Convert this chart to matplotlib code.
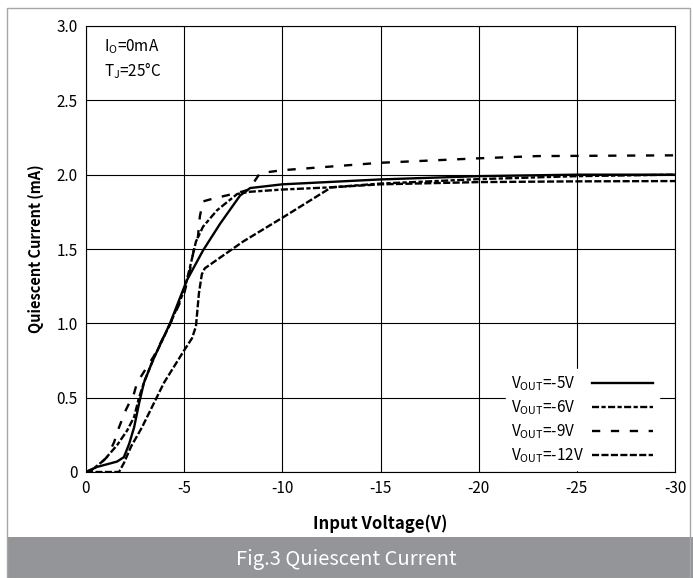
import numpy as np
import matplotlib
matplotlib.use("Agg")
import matplotlib.pyplot as plt
from matplotlib.patches import Rectangle

plt.rcParams["font.family"] = ["Noto Sans CJK SC", "DejaVu Sans"]
plt.rcParams["mathtext.fontset"] = "custom"
plt.rcParams["mathtext.rm"] = "Noto Sans CJK SC"

# input voltage magnitude (V) and quiescent current (mA)
v_5 = [0, 0.56, 1.58, 1.93, 2.2, 2.45, 2.7, 2.95, 3.4, 4.28, 4.93, 5.14, 5.96, 6.83, 7.85, 8.36, 10, 15, 20, 25, 30]
i_5 = [0, 0.034, 0.07, 0.10, 0.19, 0.30, 0.46, 0.60, 0.75, 1.00, 1.22, 1.29, 1.49, 1.67, 1.86, 1.91, 1.935, 1.968, 1.99, 2.0, 2.0]

v_6 = [0, 0.26, 0.92, 1.58, 2.1, 2.45, 2.7, 3.0, 3.5, 4.3, 5.0, 5.3, 5.6, 5.96, 6.67, 7.7, 8.35, 10, 12.5, 15, 20, 25, 30]
i_6 = [0, 0.01, 0.08, 0.18, 0.28, 0.37, 0.50, 0.62, 0.78, 1.00, 1.22, 1.38, 1.55, 1.65, 1.76, 1.87, 1.885, 1.90, 1.915, 1.94, 1.97, 1.99, 2.0]

v_9 = [0, 0.5, 1.07, 1.43, 1.68, 2.04, 2.45, 2.6, 3.46, 4.3, 5.0, 5.3, 5.5, 5.7, 5.8, 5.96, 6.5, 7.8, 8.3, 8.86, 10, 15, 20, 23, 30]
i_9 = [0, 0.03, 0.10, 0.20, 0.30, 0.42, 0.53, 0.60, 0.78, 1.00, 1.20, 1.36, 1.50, 1.58, 1.72, 1.82, 1.84, 1.88, 1.90, 2.01, 2.03, 2.08, 2.11, 2.125, 2.13]

v_12 = [0, 0.92, 1.68, 1.93, 2.29, 2.85, 3.97, 4.96, 5.4, 5.6, 5.75, 5.9, 6.05, 8, 10, 12.5, 15, 20, 25, 30]
i_12 = [0, 0, 0, 0.06, 0.17, 0.30, 0.60, 0.81, 0.90, 0.98, 1.20, 1.33, 1.37, 1.55, 1.71, 1.915, 1.935, 1.95, 1.955, 1.957]

x_ticks = [0, -5, -10, -15, -20, -25, -30]
x_labels = ["0", "-5", "-10", "-15", "-20", "-25", "-30"]
y_ticks = [0, 0.5, 1.0, 1.5, 2.0, 2.5, 3.0]
y_labels = ["0", "0.5", "1.0", "1.5", "2.0", "2.5", "3.0"]

fig = plt.figure(figsize=(6.93, 5.78), dpi=100)
ax = fig.add_axes([86 / 693, 1 - 472 / 578, 589 / 693, 446 / 578])

lw = 1.7
ax.plot(-np.array(v_5), i_5, color="black", lw=lw, label=r"V$_\mathregular{OUT}$=-5V")
ax.plot(-np.array(v_6), i_6, color="black", lw=lw, linestyle=(0, (3, 1, 1.8, 1)),
        label=r"V$_\mathregular{OUT}$=-6V")
ax.plot(-np.array(v_9), i_9, color="black", lw=lw, linestyle=(0, (3.5, 4.5)),
        label=r"V$_\mathregular{OUT}$=-9V")
ax.plot(-np.array(v_12), i_12, color="black", lw=lw, linestyle=(0, (3, 1)),
        label=r"V$_\mathregular{OUT}$=-12V")

ax.set_xlim(0, -30)
ax.set_ylim(0, 3.0)
ax.set_xticks(x_ticks)
ax.set_xticklabels(x_labels)
ax.set_yticks(y_ticks)
ax.set_yticklabels(y_labels)
ax.tick_params(length=0, labelsize=11, pad=6)
ax.grid(True, color="black", lw=0.8)
ax.set_axisbelow(True)
for s in ax.spines.values():
    s.set_color("black")
    s.set_linewidth(0.8)

ax.set_xlabel("Input Voltage(V)", fontsize=12, fontweight="bold", labelpad=12)
ax.set_ylabel("Quiescent Current (mA)", fontsize=10.5, fontweight="bold", labelpad=9)

ax.text(0.03, 0.975, "I$_\\mathregular{O}$=0mA\nT$_\\mathregular{J}$=25°C", transform=ax.transAxes,
        fontsize=11, va="top", ha="left", linespacing=1.3)

leg = ax.legend(loc="lower right", bbox_to_anchor=(0.972, 0.004), markerfirst=False,
                fontsize=11, handlelength=4.0, labelspacing=0.35, borderpad=0.35,
                borderaxespad=0, fancybox=False, framealpha=1, edgecolor="white",
                handletextpad=0.5)

# left-align the legend labels (text first, handle at the right edge)
fig.canvas.draw()
renderer = fig.canvas.get_renderer()
try:
    rows = [r for col in leg._legend_handle_box.get_children() for r in col.get_children()]
    wmax = max(r.get_bbox(renderer).width for r in rows)
    for r in rows:
        r.mode = "expand"
        r.width = wmax
except Exception:
    pass

# caption band and outer frame
fig.patches.append(Rectangle((8 / 693, 0), 1, 41 / 578, transform=fig.transFigure,
                             facecolor="#939598", edgecolor="none"))
fig.patches.append(Rectangle((7 / 693, 0), 683 / 693, 570 / 578, transform=fig.transFigure,
                             fill=False, edgecolor="#a6a6a6", lw=1))
fig.text(0.5, 19 / 578, "Fig.3 Quiescent Current", color="white", fontsize=14.5,
         ha="center", va="center", fontweight="light")

fig.savefig("out.png", dpi=100)
